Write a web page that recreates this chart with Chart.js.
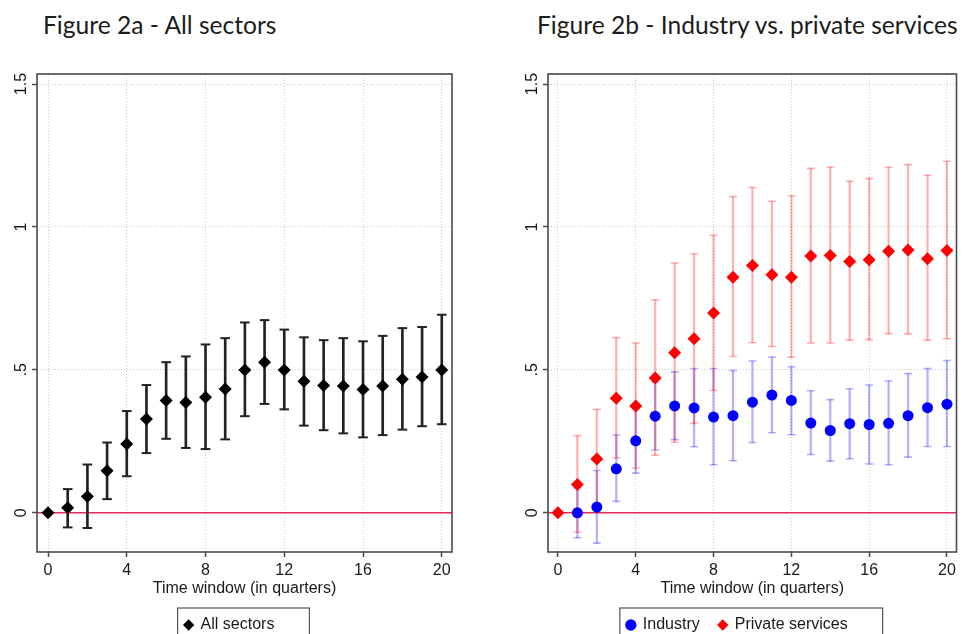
<!DOCTYPE html>
<html>
<head>
<meta charset="utf-8">
<script src="https://cdn.jsdelivr.net/npm/chart.js@4.4.1/dist/chart.umd.min.js"></script>
<style>
  html, body { margin:0; padding:0; background:#fff; overflow:hidden; }
  body { width:963px; height:634px; position:relative; }
  .fig-title { position:absolute; font-family:Lato, 'Open Sans', sans-serif; font-size:24.6px; line-height:28px; color:#1c1c1c; white-space:nowrap; }
  .chart-box { position:absolute; top:60px; height:583px; }
</style>
</head>
<body>
<div class="fig-title" style="left:43px;top:11px">Figure 2a - All sectors</div>
<div class="fig-title" style="left:537px;top:11px">Figure 2b - Industry vs. private services</div>
<div class="chart-box" style="left:0;width:470px"><canvas id="chart-all"></canvas></div>
<div class="chart-box" style="left:511px;width:452px"><canvas id="chart-sect"></canvas></div>

<script>
// ===== DATA =====
const quarters = [0,1,2,3,4,5,6,7,8,9,10,11,12,13,14,15,16,17,18,19,20];
const xTicks = [0,4,8,12,16,20];
const yTicks = [0,0.5,1,1.5];
const yTickLabels = ['0','.5','1','1.5'];
const xTitle = 'Time window (in quarters)';

// Figure 2a - all sectors (point estimate + CI bounds)
const allVal = [0,0.018,0.057,0.147,0.241,0.328,0.393,0.386,0.404,0.433,0.5,0.527,0.5,0.46,0.445,0.444,0.431,0.444,0.467,0.475,0.5];
const allLo  = [null,-0.051,-0.053,0.048,0.128,0.209,0.259,0.227,0.223,0.257,0.338,0.381,0.362,0.305,0.289,0.278,0.264,0.272,0.291,0.303,0.31];
const allHi  = [null,0.083,0.169,0.246,0.356,0.447,0.527,0.547,0.589,0.611,0.666,0.674,0.641,0.614,0.604,0.611,0.6,0.619,0.646,0.65,0.693];

// Figure 2b - industry
const indVal = [null,0,0.02,0.154,0.252,0.338,0.374,0.367,0.335,0.34,0.387,0.412,0.393,0.314,0.288,0.312,0.309,0.313,0.34,0.368,0.38];
const indLo  = [null,-0.087,-0.106,0.04,0.139,0.22,0.256,0.231,0.168,0.182,0.246,0.28,0.273,0.204,0.181,0.189,0.171,0.168,0.195,0.232,0.232];
const indHi  = [null,0.087,0.148,0.272,0.365,0.456,0.493,0.505,0.505,0.498,0.531,0.545,0.511,0.427,0.396,0.434,0.447,0.461,0.487,0.505,0.533];

// Figure 2b - private services
const psVal = [0,0.099,0.188,0.401,0.374,0.472,0.56,0.609,0.699,0.824,0.865,0.833,0.824,0.898,0.9,0.879,0.885,0.915,0.919,0.889,0.918];
const psLo  = [null,-0.068,0.014,0.192,0.156,0.202,0.247,0.313,0.428,0.547,0.595,0.582,0.544,0.594,0.594,0.604,0.606,0.627,0.626,0.604,0.609];
const psHi  = [null,0.27,0.362,0.613,0.594,0.745,0.874,0.906,0.971,1.106,1.138,1.09,1.109,1.205,1.209,1.16,1.17,1.209,1.218,1.181,1.23];

// ===== HELPERS =====
const FONT = "'Liberation Sans', Arial, sans-serif";
const TXT = '#1a1a1a';

function pts(vals) {
  return quarters.map((q,i)=> vals[i]==null ? null : {x:q, y:vals[i]}).filter(Boolean);
}
function spans(lo, hi) {
  return quarters.map((q,i)=> lo[i]==null ? null : {x:q, y:[lo[i],hi[i]]}).filter(Boolean);
}

function markerSet(label, vals, style, radius, color, order) {
  return { type:'scatter', label, data:pts(vals), pointStyle:style, pointRadius:radius,
    backgroundColor:color, borderColor:color, borderWidth:0, order, inLegend:true };
}
function whiskerSets(lo, hi, color, width, capR, order) {
  return [
    { type:'bar', data:spans(lo,hi), backgroundColor:color, barThickness:width, grouped:false, borderWidth:0, order },
    { type:'scatter', data:[...pts(lo), ...pts(hi)], pointStyle:'line', pointRadius:capR,
      borderColor:color, borderWidth:width, order },
  ];
}

// zero line under the marks, frame + legend box on top
const stataPlugin = {
  id: 'stata',
  afterLayout(chart, args, o) {
    const lg = chart.legend;
    if (lg) { lg.left += o.shift; lg.right += o.shift; }
  },
  beforeDatasetsDraw(chart) {
    const {ctx, chartArea:a, scales:{y}} = chart;
    const py = y.getPixelForValue(0);
    ctx.save();
    ctx.strokeStyle = '#e3285a'; ctx.lineWidth = 1.5;
    ctx.beginPath(); ctx.moveTo(a.left, py); ctx.lineTo(a.right, py); ctx.stroke();
    ctx.restore();
  },
  afterDraw(chart) {
    const {ctx, chartArea:a} = chart;
    ctx.save();
    ctx.strokeStyle = '#4a4a4a'; ctx.lineWidth = 1.6;
    ctx.strokeRect(a.left, a.top, a.right - a.left, a.bottom - a.top);
    const hb = chart.legend && chart.legend.legendHitBoxes;
    if (hb && hb.length) {
      const first = hb[0], last = hb[hb.length-1];
      const cy = first.top + first.height/2;
      const left = first.left - 7, right = last.left + last.width + 35;
      ctx.strokeStyle = '#555'; ctx.lineWidth = 1.2;
      ctx.strokeRect(left, cy - 17, right - left, 40);
    }
    ctx.restore();
  }
};

function buildOptions(xMin, xMax, padRight, shift) {
  const grid = { offset:false, color:'#c9c9c9', lineWidth:1, tickLength:5, tickColor:'#4a4a4a', tickWidth:1.5, tickBorderDash:[] };
  return {
    responsive:true, maintainAspectRatio:false, animation:false, events:[],
    layout:{ padding:{ top:14, right:padRight, left:0, bottom:0 } },
    plugins:{
      legend:{ position:'bottom', fullSize:false,
        labels:{ usePointStyle:true, boxWidth:8, boxHeight:8, padding:19, color:TXT,
          font:{family:FONT, size:16},
          filter:(item, data)=> !!data.datasets[item.datasetIndex].inLegend,
          sort:(a,b)=> a.datasetIndex - b.datasetIndex } },
      tooltip:{ enabled:false },
      stata:{ shift }
    },
    scales:{
      x:{ type:'linear', min:xMin, max:xMax, offset:false,
        afterBuildTicks:s=>{ s.ticks = xTicks.map(v=>({value:v})); },
        afterFit:s=>{ s.height = 46; },
        grid,
        border:{ display:false, dash:[1,2] },
        ticks:{ color:TXT, font:{family:FONT, size:16}, padding:4, maxRotation:0 },
        title:{ display:true, text:xTitle, color:TXT, font:{family:FONT, size:16}, padding:{top:0,bottom:0} } },
      y:{ type:'linear', min:-0.137, max:1.535,
        afterBuildTicks:s=>{ s.ticks = yTicks.map(v=>({value:v})); },
        afterFit:s=>{ s.width = 37; },
        grid,
        border:{ display:false, dash:[1,2] },
        ticks:{ color:TXT, font:{family:FONT, size:16}, padding:-0.5, minRotation:90, maxRotation:90, crossAlign:'center',
          callback:v=> yTickLabels[yTicks.indexOf(v)] } }
    }
  };
}

// ===== CHARTS =====
new Chart(document.getElementById('chart-all'), {
  type:'scatter',
  data:{ datasets:[
    markerSet('All sectors', allVal, 'rectRot', 6.5, '#000', 0),
    ...whiskerSets(allLo, allHi, '#222', 2, 4.8, 2),
  ]},
  options: buildOptions(-0.56, 20.52, 18, -15),
  plugins:[stataPlugin]
});

new Chart(document.getElementById('chart-sect'), {
  type:'scatter',
  data:{ datasets:[
    markerSet('Industry', indVal, 'circle', 5.5, '#0000ff', 1),
    markerSet('Private services', psVal, 'rectRot', 6.5, '#ff0000', 0),
    ...whiskerSets(psLo, psHi, 'rgba(255,0,0,0.3)', 1.6, 4, 3),
    ...whiskerSets(indLo, indHi, 'rgba(0,0,255,0.3)', 1.6, 4, 5),
  ]},
  options: buildOptions(-0.51, 20.49, 1, -15),
  plugins:[stataPlugin]
});
</script>
</body>
</html>
